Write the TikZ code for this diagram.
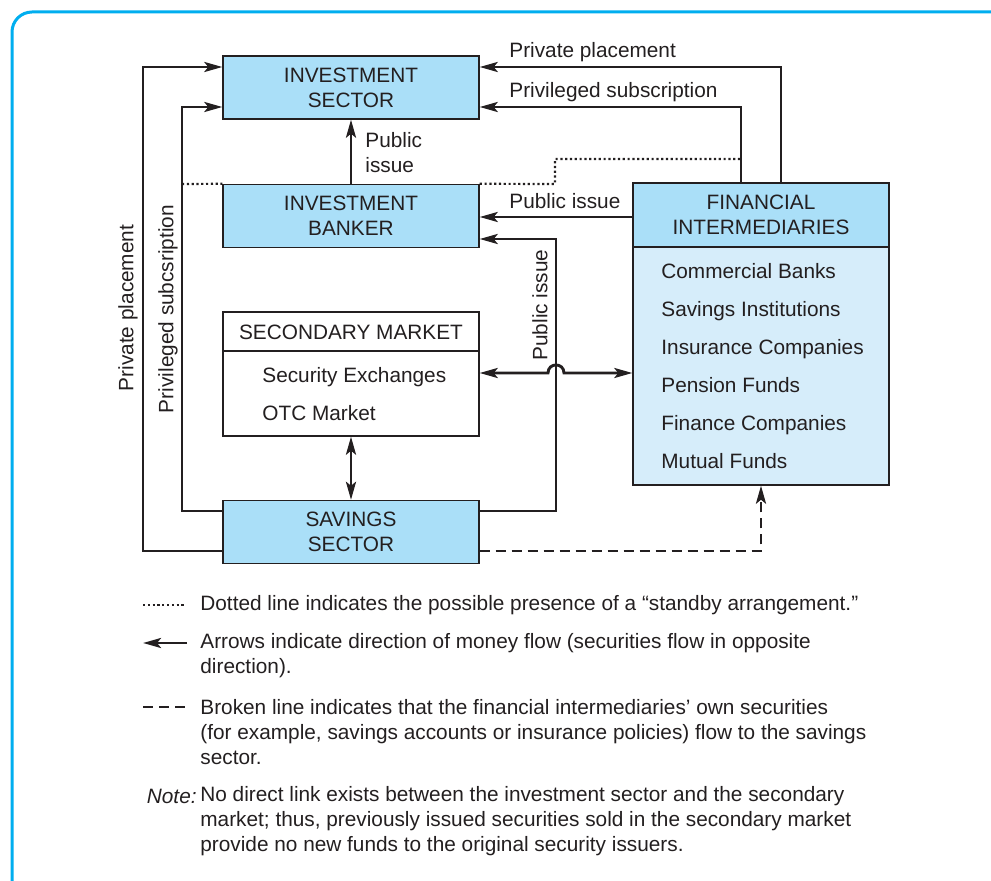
\documentclass[tikz,border=0pt]{standalone}
\usepackage{fontspec}
\setmainfont{Liberation Sans}
\usetikzlibrary{arrows.meta}
\definecolor{framec}{RGB}{0,174,239}
\definecolor{boxblue}{RGB}{170,223,248}
\definecolor{bodyblue}{RGB}{214,237,250}
\definecolor{ink}{RGB}{35,31,32}
\begin{document}
\begin{tikzpicture}[x=0.5pt,y=-0.5pt,
  every node/.style={font=\fontsize{10.4}{12.5}\selectfont, text=ink},
  lbl/.style={inner sep=0pt},
  box/.style={draw=ink, line width=0.7pt, fill=boxblue, minimum width=128pt, minimum height=31.5pt, inner sep=0pt, align=center},
  flow/.style={draw=ink, line width=1.45pt, -{Stealth[length=9pt,width=5pt,inset=2pt]}},
  twoway/.style={draw=ink, line width=1.45pt, {Stealth[length=9pt,width=5pt,inset=2pt]}-{Stealth[length=9pt,width=5pt,inset=2pt]}},
  dotline/.style={draw=ink, line width=1.1pt, dash pattern=on 1.1pt off 1.3pt},
  dashline/.style={draw=ink, line width=1.4pt, dash pattern=on 5pt off 3pt}
]
\useasboundingbox (0,0) rectangle (991,881);
\begin{scope}
\clip (0,0) rectangle (991,881);
\draw[framec, line width=1.5pt, rounded corners=10pt] (12,12) rectangle (1020,910);
\end{scope}

% boxes
\node[box] (is) at (351,87.5) {INVESTMENT\\SECTOR};
\node[box] (ib) at (351,216) {INVESTMENT\\BANKER};
\node[box] (sav) at (351,532) {SAVINGS\\SECTOR};
\node[draw=ink, line width=0.7pt, fill=white, minimum width=128pt, minimum height=62pt, inner sep=0pt] (sm) at (351,374) {};
\draw[ink, line width=0.7pt] (sm.west |- 0,351) coordinate (smd1) -- (sm.east |- 0,351) coordinate (smd2);
\node[lbl] (smh) at (351,332) {SECONDARY MARKET};
\node[lbl, anchor=base west] (sm1) at (262,383) {Security Exchanges};
\node[lbl, anchor=base west] (sm2) at (262,421) {OTC Market};

\node[draw=ink, line width=0.7pt, fill=bodyblue, minimum width=128pt, minimum height=119pt, inner sep=0pt] (fi) at (761,366) {};
\node[box, minimum height=32pt] (fih) at (761,215) {FINANCIAL\\INTERMEDIARIES};
\node[lbl, anchor=base west] (f1) at (661,279) {Commercial Banks};
\node[lbl, anchor=base west] (f2) at (661,317) {Savings Institutions};
\node[lbl, anchor=base west] (f3) at (661,355) {Insurance Companies};
\node[lbl, anchor=base west] (f4) at (661,393) {Pension Funds};
\node[lbl, anchor=base west] (f5) at (661,431) {Finance Companies};
\node[lbl, anchor=base west] (f6) at (661,469) {Mutual Funds};

% coordinates
\coordinate (ppL1) at (143,551);
\coordinate (ppL2) at (143,67);
\coordinate (psL1) at (182,511);
\coordinate (psL2) at (182,107);
\coordinate (ppR) at (781,67);
\coordinate (psR) at (741,107);
\coordinate (pi) at (633,217);
\coordinate (pv1) at (556,511);
\coordinate (pv2) at (556,239);
\coordinate (h) at (556,373);
\coordinate (h1) at (548,373);
\coordinate (h2) at (564,373);
\coordinate (hc1) at (548,362.3);
\coordinate (hc2) at (564,362.3);
\coordinate (dd) at (761,551);
\coordinate (dl) at (182,184);
\coordinate (dr1) at (555,184);
\coordinate (dr2) at (555,159);
\coordinate (dr3) at (741,159);

% dotted standby lines
\draw[dotline] (dl) -- (ib.north west);
\draw[dotline] (ib.north east) -- (dr1) -- (dr2) -- (dr3);

% connectors
\draw[flow] (ppL1 -| sav.west) -- (ppL1) -- (ppL2) -- (ppL2 -| is.west);
\draw[flow] (psL1 -| sav.west) -- (psL1) -- (psL2) -- (psL2 -| is.west);
\draw[flow] (ppR |- fih.north) -- (ppR) -- (ppR -| is.east);
\draw[flow] (psR |- fih.north) -- (psR) -- (psR -| is.east);
\draw[flow] (pi -| fih.west) -- (pi -| ib.east);
\draw[flow] (pv1 -| sav.east) -- (pv1) -- (pv2) -- (pv2 -| ib.east);
\draw[flow] (ib.north) -- (is.south);
\draw[twoway] (sm.south) -- (sav.north);
\draw[twoway] (h -| sm.east) -- (h1) .. controls (hc1) and (hc2) .. (h2) -- (h -| fi.west);
\draw[dashline, -{Stealth[length=9pt,width=5pt,inset=2pt]}] (dd -| sav.east) -- (dd) -- (fi.south);

% connector labels
\node[lbl, anchor=west] (lpp) at (509,52) {Private placement};
\node[lbl, anchor=west] (lps) at (509,92) {Privileged subscription};
\node[lbl, anchor=west] (lpi) at (509,201) {Public issue};
\node[lbl, anchor=west, align=left] (lpi2) at (365,152.5) {Public\\issue};
\node[lbl, rotate=90] (lpv) at (540,305) {Public issue};
\node[lbl, rotate=90] (lppl) at (128,308) {Private placement};
\node[lbl, rotate=90] (lpsl) at (168,309) {Privileged subcsription};

% legend
\coordinate (k1a) at (143,605); \coordinate (k1b) at (185,605);
\coordinate (k2a) at (187,643); \coordinate (k2b) at (143,643);
\coordinate (k3a) at (143,707); \coordinate (k3b) at (187,707);
\draw[dotline] (k1a) -- (k1b);
\draw[flow] (k2a) -- (k2b);
\draw[dashline] (k3a) -- (k3b);
\node[lbl, anchor=west] (t1) at (200,605) {Dotted line indicates the possible presence of a “standby arrangement.”};
\node[lbl, anchor=west, align=left] (t2) at (200,655.5) {Arrows indicate direction of money flow (securities flow in opposite\\direction).};
\node[lbl, anchor=west, align=left] (t3) at (200,732) {Broken line indicates that the financial intermediaries’ own securities\\(for example, savings accounts or insurance policies) flow to the savings\\sector.};
\node[lbl, anchor=east] (tn) at (197,796) {\itshape Note:};
\node[lbl, anchor=west, align=left] (t4) at (200,821) {No direct link exists between the investment sector and the secondary\\market; thus, previously issued securities sold in the secondary market\\provide no new funds to the original security issuers.};
\end{tikzpicture}
\end{document}
